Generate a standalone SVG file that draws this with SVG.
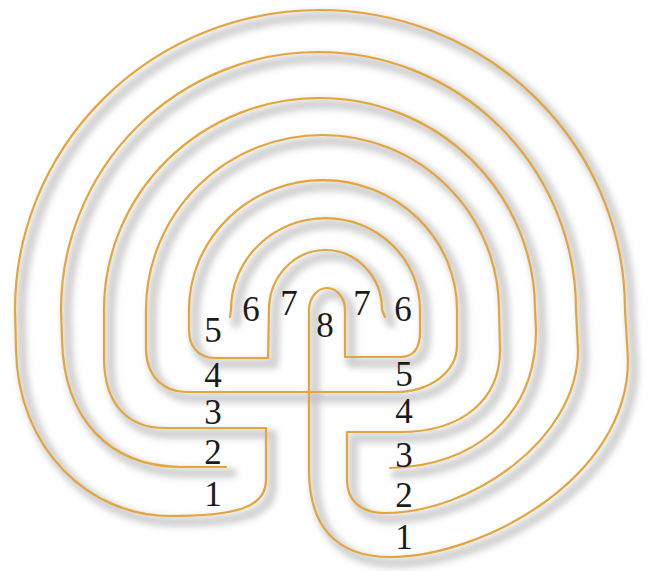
<svg xmlns="http://www.w3.org/2000/svg" xmlns:xlink="http://www.w3.org/1999/xlink" width="664" height="571" viewBox="0 0 664 571">
  <style>
    .wall { fill: none; stroke: #e4a53a; stroke-width: 2.2; stroke-linecap: round; stroke-linejoin: round; }
    .shadow { fill: none; stroke: #c2c2c2; stroke-width: 10; stroke-linecap: round; stroke-linejoin: round; opacity: 0.75; }
    .num { font-family: "Liberation Serif", "Times New Roman", "DejaVu Serif", serif; font-size: 35px; fill: #1b1b1b; text-anchor: middle; }
  </style>
  <defs>
    <filter id="blur" x="-10%" y="-10%" width="120%" height="120%">
      <feGaussianBlur stdDeviation="3"/>
    </filter>
    <path id="wallA" d="M 230 317 L 231 310 A 94.5 92 0 0 1 420 310 L 420 332 C 420 350 412 357 400 357 L 345 357 L 345 310 A 18 22 0 0 0 309 310 L 309 470 C 309 525 335 557 390 557 C 480 557 628 480 628 360 L 625 310 A 305 300 0 0 0 15 310 L 16 350 C 18 450 90 516 170 516 C 235 516 266 508 266 480 L 266 428 L 165 428 C 128 428 105 405 104 360 L 104 310 A 215.5 212 0 0 1 535 310 L 536 330 C 536 420 470 466 390 468"/>
    <path id="wallB" d="M 385 317 L 382 310 A 56.5 60 0 0 0 269 310 L 268 358 L 215 358 C 197 358 189 345 189 330 L 189 310 A 134 130 0 0 1 457 310 L 457 345 C 457 372 430 392 395 392 L 186 392 C 165 392 147 378 146 350 L 146 310 A 176.5 175 0 0 1 499 310 L 500 350 C 500 400 462 432 400 432 L 347 432 L 347 480 C 347 500 360 513 385 513 C 470 513 578 440 578 350 L 576 310 A 257.5 258 0 0 0 61 310 L 62 340 C 64 420 110 466 180 467 L 226 467"/>
  </defs>
  <rect width="664" height="571" fill="#ffffff"/>
  <g id="shadows" transform="translate(6,6)" filter="url(#blur)">
    <use xlink:href="#wallA" href="#wallA" class="shadow"/>
    <use xlink:href="#wallB" href="#wallB" class="shadow"/>
  </g>
  <g id="walls">
    <use xlink:href="#wallA" href="#wallA" class="wall"/>
    <use xlink:href="#wallB" href="#wallB" class="wall"/>
  </g>
  <g id="labels">
    <text class="num" x="213" y="342">5</text>
    <text class="num" x="213" y="387">4</text>
    <text class="num" x="213" y="424">3</text>
    <text class="num" x="213" y="464">2</text>
    <text class="num" x="213" y="506">1</text>
    <text class="num" x="251" y="321">6</text>
    <text class="num" x="289" y="315">7</text>
    <text class="num" x="325" y="337">8</text>
    <text class="num" x="362" y="315">7</text>
    <text class="num" x="403" y="321">6</text>
    <text class="num" x="404" y="386">5</text>
    <text class="num" x="404" y="423">4</text>
    <text class="num" x="404" y="467">3</text>
    <text class="num" x="404" y="507">2</text>
    <text class="num" x="404" y="549">1</text>
  </g>
</svg>
